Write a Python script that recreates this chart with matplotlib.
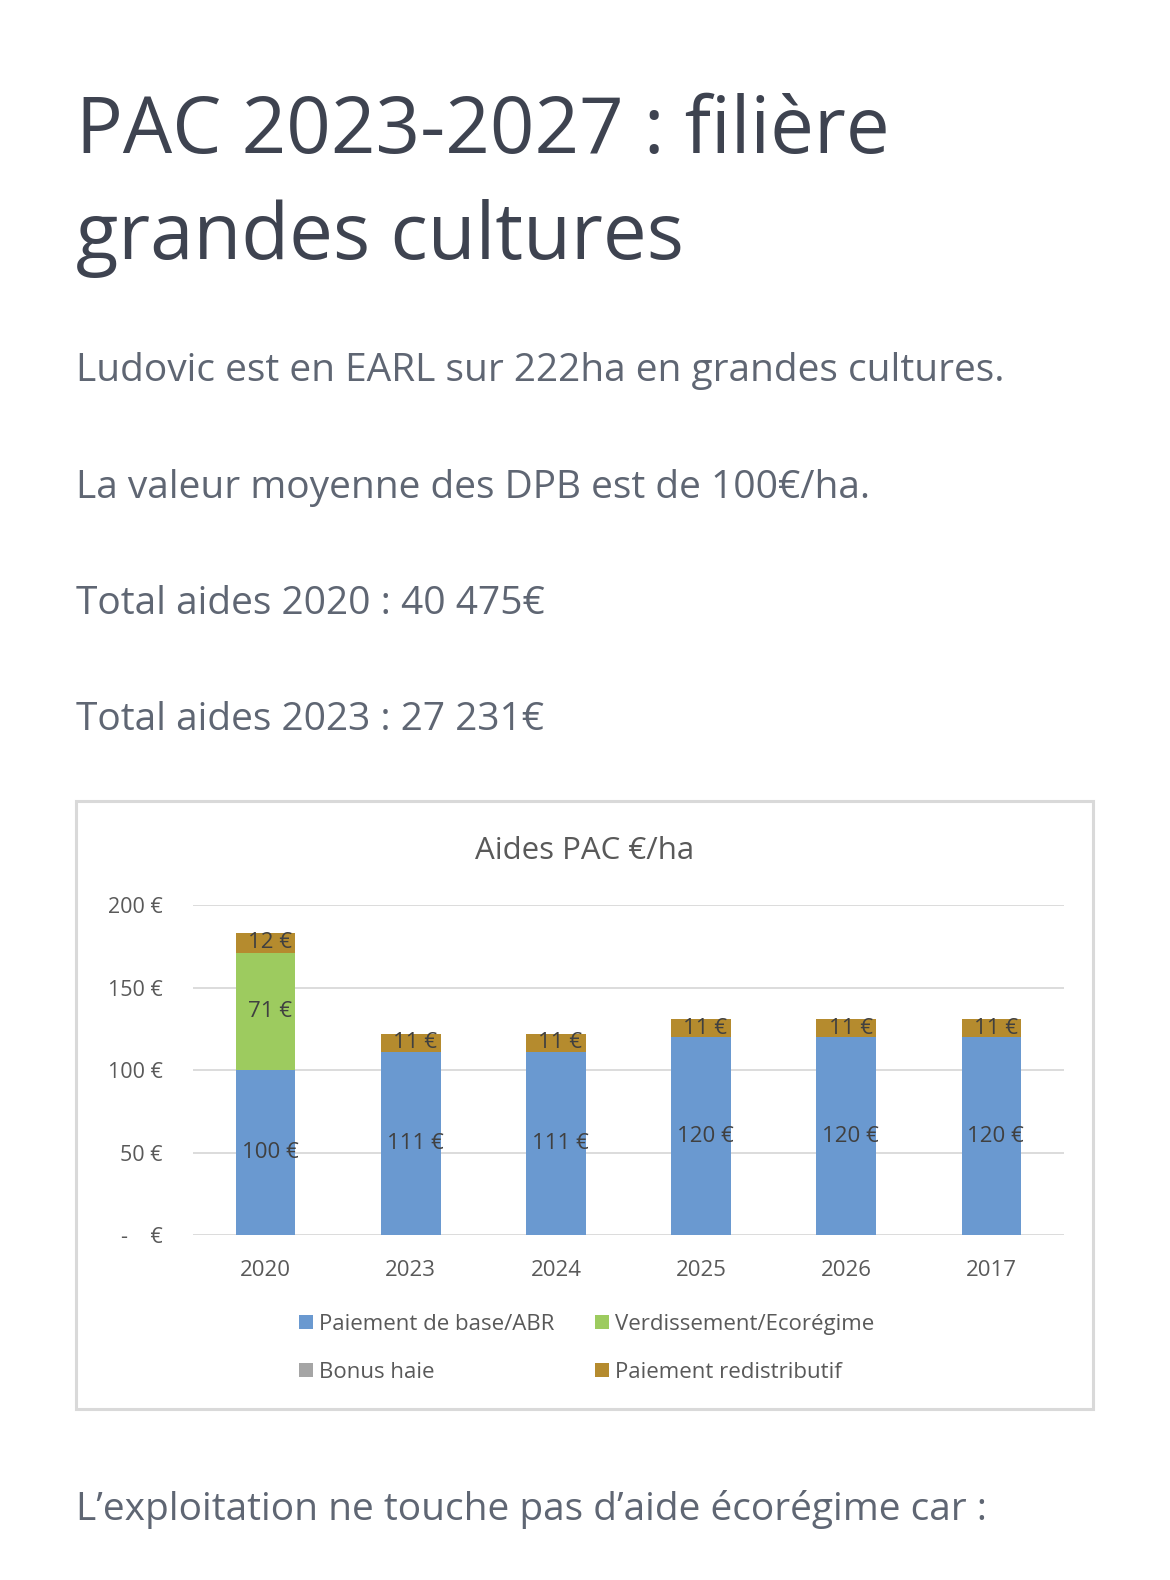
import matplotlib
matplotlib.use("Agg")
import matplotlib.pyplot as plt
from matplotlib.patches import Patch, Rectangle
import numpy as np

# ---- data ----
years = ["2020", "2023", "2024", "2025", "2026", "2017"]
paiement_base = [100, 111, 111, 120, 120, 120]
verdissement = [71, 0, 0, 0, 0, 0]
bonus_haie = [0, 0, 0, 0, 0, 0]
redistributif = [12, 11, 11, 11, 11, 11]
series_names = ["Paiement de base/ABR", "Verdissement/Ecorégime", "Bonus haie", "Paiement redistributif"]
yticks = [0, 50, 100, 150, 200]
ytick_labels = ["-    €", "50 €", "100 €", "150 €", "200 €"]

page_title = ["PAC 2023-2027 : filière", "grandes cultures"]
paragraphs = ["Ludovic est en EARL sur 222ha en grandes cultures.",
              "La valeur moyenne des DPB est de 100€/ha.",
              "Total aides 2020 : 40 475€",
              "Total aides 2023 : 27 231€"]
footer_text = "L’exploitation ne touche pas d’aide écorégime car :"
chart_title = "Aides PAC €/ha"

colors = ["#6A99D0", "#9DCB5F", "#A5A5A5", "#B58B2E"]

W, H = 1170, 1580
fig = plt.figure(figsize=(W / 100, H / 100), dpi=100)
fig.patch.set_facecolor("white")

def fx(x):
    return x / W

def fy(y):
    return 1 - y / H

page_font = ["Open Sans", "DejaVu Sans"]
chart_font = ["Open Sans", "DejaVu Sans"]

# ---- page text ----
title_color = "#3E4350"
body_color = "#5F6673"
fig.text(fx(76), fy(153), page_title[0], fontsize=56.2, color=title_color,
         family=page_font, va="baseline", ha="left")
fig.text(fx(76), fy(259), page_title[1], fontsize=56.2, color=title_color,
         family=page_font, va="baseline", ha="left")
for yb, t in zip([381, 498, 614, 730], paragraphs):
    fig.text(fx(76), fy(yb), t, fontsize=28, color=body_color,
             family=page_font, va="baseline", ha="left")
fig.text(fx(76), fy(1520), footer_text, fontsize=28, color=body_color,
         family=page_font, va="baseline", ha="left")

# ---- chart frame ----
frame = Rectangle((fx(76), fy(1409)), fx(1093) - fx(76), fy(801) - fy(1409),
                  transform=fig.transFigure, facecolor="none",
                  edgecolor="#D9D9D9", linewidth=2.2, zorder=-1)
fig.patches.append(frame)

fig.text(fx(585), fy(859), chart_title, fontsize=22.5, color="#595959",
         family=chart_font, va="baseline", ha="center")

# ---- axes ----
ax_left, ax_right = 193, 1064
y0_px, y200_px = 1235.3, 905
ax = fig.add_axes([fx(ax_left), fy(y0_px), fx(ax_right) - fx(ax_left), (y0_px - y200_px) / H])
ax.set_facecolor("none")
ax.set_zorder(2)

x = np.arange(len(years))
width = 0.41
base = np.array(paiement_base, dtype=float)
verd = np.array(verdissement, dtype=float)
bonus = np.array(bonus_haie, dtype=float)
redis = np.array(redistributif, dtype=float)

bottoms = np.zeros(len(years))
for vals, c in zip([base, verd, bonus, redis], colors):
    ax.bar(x, vals, width, bottom=bottoms, color=c, zorder=3)
    for xi, v, bt in zip(x, vals, bottoms):
        if v > 0:
            ax.text(xi + 0.03, bt + v / 2, f"{int(v)} €", ha="center", va="center",
                    fontsize=16, color="#404040", family=chart_font, zorder=4)
    bottoms = bottoms + vals

ax.set_xlim(-0.5, len(years) - 0.5)
ax.set_ylim(0, 200)
ax.set_yticks(yticks)
ax.set_yticklabels(ytick_labels)
ax.set_xticks(x)
ax.set_xticklabels(years)
ax.grid(axis="y", color="#D9D9D9", linewidth=1.3, zorder=0)
ax.set_axisbelow(True)
for s in ax.spines.values():
    s.set_visible(False)
ax.tick_params(axis="both", length=0, labelsize=15.5, labelcolor="#595959")
ax.tick_params(axis="x", labelsize=16, pad=18)
ax.tick_params(axis="y", pad=22)
for lab in ax.get_xticklabels() + ax.get_yticklabels():
    lab.set_family(chart_font)

# ---- legend ----
order = [0, 2, 1, 3]
handles = [Patch(facecolor=colors[i], edgecolor="none") for i in order]
labels = [series_names[i] for i in order]
leg = fig.legend(handles, labels, ncol=2, loc="upper left",
                 bbox_to_anchor=(fx(299), fy(1314)), frameon=False,
                 borderpad=0, borderaxespad=0, handlelength=0.62, handleheight=0.62,
                 handletextpad=0.3, columnspacing=1.8, labelspacing=1.2,
                 prop={"family": chart_font, "size": 16})
for t in leg.get_texts():
    t.set_color("#595959")

fig.savefig("out.png", dpi=100, facecolor="white")
